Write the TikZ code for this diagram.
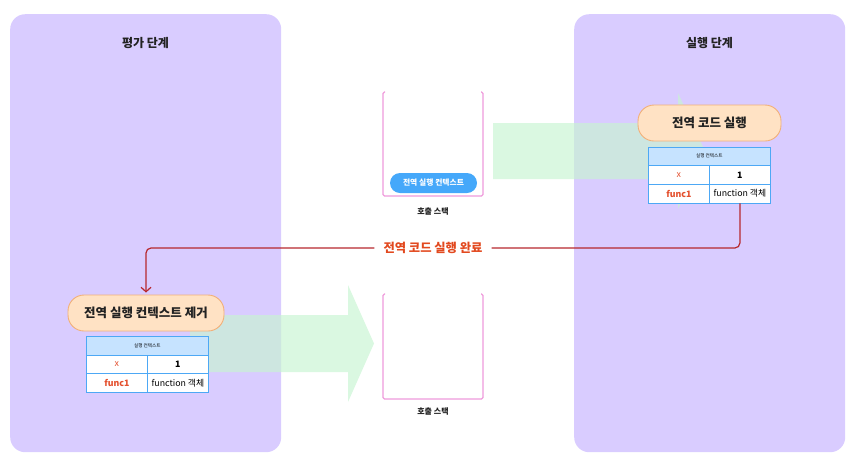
\documentclass[tikz,border=0pt]{standalone}
\usepackage{fontspec}
\setmainfont{Noto Sans CJK KR}
\usetikzlibrary{arrows.meta}
\definecolor{panelfill}{HTML}{D9CCFF}
\definecolor{flowgreen}{RGB}{199,244,209}
\definecolor{peach}{HTML}{FFE2C4}
\definecolor{peachline}{HTML}{F2B079}
\definecolor{tblblue}{HTML}{4DA8F5}
\definecolor{tblhead}{HTML}{C6E3FF}
\definecolor{stackpink}{HTML}{EE9ADB}
\definecolor{pillblue}{HTML}{45A8FA}
\definecolor{darkred}{HTML}{B7282E}
\definecolor{labelred}{HTML}{E2491F}
\definecolor{keyred}{HTML}{E4502E}
\definecolor{titletext}{HTML}{222222}
\begin{document}
\begin{tikzpicture}[x=1pt,y=-1pt,
  panelbox/.style={fill=panelfill, rounded corners=15pt, anchor=north west, inner sep=0pt},
  paneltitle/.style={font=\fontsize{12}{14}\selectfont\bfseries, text=titletext},
  flowarrow/.style={fill=flowgreen, fill opacity=0.66},
  stepbox/.style={fill=peach, draw=peachline, line width=0.9pt, rounded corners=16pt,
    minimum height=36pt, inner sep=0pt, font=\fontsize{12.5}{14}\selectfont\bfseries, text=titletext},
  headcell/.style={fill=tblhead, draw=tblblue, line width=0.8pt, minimum width=122pt,
    minimum height=18.7pt, inner sep=0pt, anchor=north west, font=\fontsize{4.6}{5}\selectfont},
  cell/.style={fill=white, draw=tblblue, line width=0.8pt, minimum width=61pt,
    minimum height=18.7pt, inner sep=0pt, anchor=north west, font=\fontsize{8.8}{10}\selectfont},
  boldcell/.style={cell, font=\fontsize{8.8}{10}\selectfont\bfseries},
  keycell/.style={cell, text=keyred},
  stackline/.style={draw=stackpink, line width=1.1pt, rounded corners=1.5pt},
  stacklabel/.style={font=\fontsize{8}{9}\selectfont\bfseries, text=titletext},
  redline/.style={draw=darkred, line width=1.2pt, rounded corners=5pt}
]
\useasboundingbox (0,0) rectangle (854,467);

% panels
\node[panelbox, minimum width=271pt, minimum height=438pt] (evalpanel) at (10,14) {};
\node[panelbox, minimum width=271pt, minimum height=438pt] (runpanel) at (574,14) {};
\node[paneltitle] (evaltitle) at (145.5,43.5) {평가 단계};
\node[paneltitle] (runtitle) at (709.5,43.5) {실행 단계};

% green flow arrows
\fill[flowarrow] (493,123) -- (678,123) -- (678,93) -- (705,151) -- (678,209) -- (678,179) -- (493,179) -- cycle;
\fill[flowarrow] (190,315) -- (348,315) -- (348,285) -- (374,343.5) -- (348,402) -- (348,372) -- (190,372) -- cycle;

% call stacks
\draw[stackline] (385,92) -- (383,92) -- (383,196) -- (483,196) -- (483,92) -- (481,92);
\node[stacklabel] (stacklabeltop) at (433,211) {호출 스택};
\node[fill=pillblue, rounded corners=10pt, minimum width=87pt, minimum height=20pt, inner sep=0pt,
  text=white, font=\fontsize{7.8}{9}\selectfont\bfseries] (globalctx) at (433.5,183) {전역 실행 컨텍스트};

\draw[stackline] (385,294) -- (383,294) -- (383,399) -- (483,399) -- (483,294) -- (481,294);
\node[stacklabel] (stacklabelbot) at (433,411) {호출 스택};

% right: execution
\node[stepbox, minimum width=143pt] (rbox) at (709.5,123) {전역 코드 실행};
\node[headcell] (rhead) at (648,146.5) {실행 컨텍스트};
\node[keycell] (rk1) at (648,165.2) {x};
\node[boldcell] (rv1) at (709,165.2) {1};
\node[boldcell, text=keyred] (rk2) at (648,183.9) {func1};
\node[cell] (rv2) at (709,183.9) {function 객체};

% left: evaluation
\node[stepbox, minimum width=156pt] (lbox) at (146,313) {전역 실행 컨텍스트 제거};
\node[headcell] (lhead) at (86,336) {실행 컨텍스트};
\node[keycell] (lk1) at (86,354.7) {x};
\node[boldcell] (lv1) at (147,354.7) {1};
\node[boldcell, text=keyred] (lk2) at (86,373.4) {func1};
\node[cell] (lv2) at (147,373.4) {function 객체};

% completion connector
\node[inner xsep=9pt, inner ysep=2pt, text=labelred, font=\fontsize{12.3}{14}\selectfont\bfseries] (donelabel) at (433,248) {전역 코드 실행 완료};
\draw[redline] (rv2.south) |- (donelabel.east);
\draw[redline, -{Straight Barb[length=4.5pt,width=10pt]}, shorten >=2pt] (donelabel.west) -| (lbox.north);
\end{tikzpicture}
\end{document}
